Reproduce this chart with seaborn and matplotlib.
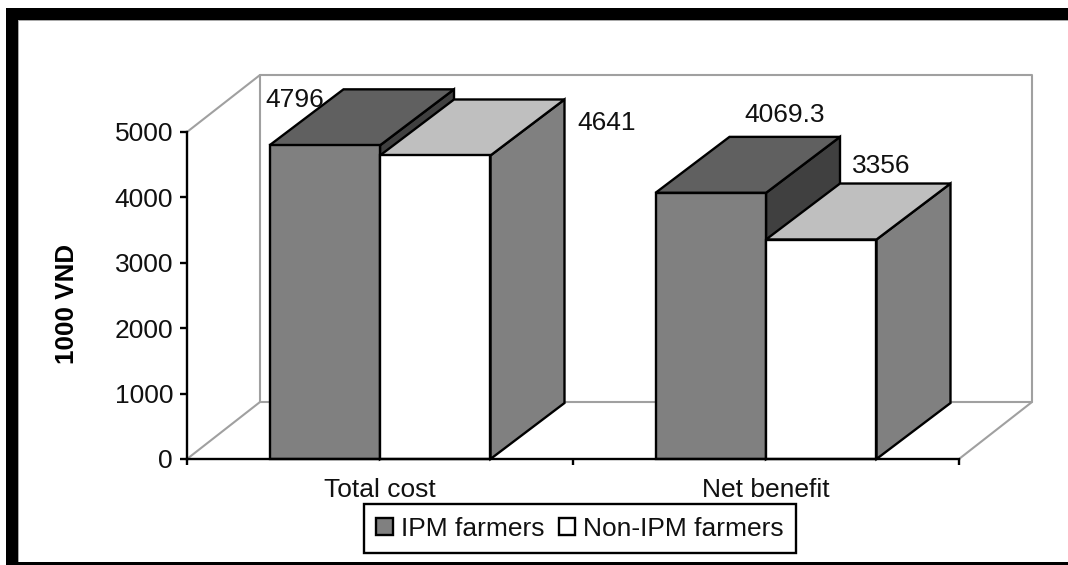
import matplotlib
matplotlib.use("Agg")
import matplotlib.pyplot as plt
from matplotlib.patches import Polygon, Rectangle
from matplotlib.ticker import FixedLocator, NullFormatter
import pandas as pd
import seaborn as sns

categories = ["Total cost", "Net benefit"]
ipm_values = [4796, 4069.3]
non_ipm_values = [4641, 3356]
series_names = ["IPM farmers", "Non-IPM farmers"]
value_labels = ["4796", "4641", "4069.3", "3356"]
y_ticks = [0, 1000, 2000, 3000, 4000, 5000]

W, H = 1068, 565
DPI = 100
FONT = 19
LW = 1.7
DEPTH_X, DEPTH_Y = 74, 56          # 3-D depth in pixels
WALL_X, WALL_Y = 73, 57
GREY = "#a0a0a0"
FRONT = ["#808080", "#ffffff"]
TOP = ["#606060", "#bfbfbf"]
SIDE = ["#404040", "#808080"]
LABEL_OFFSETS = [(-30, 45), (171, 32), (74, 78), (60, 74)]  # pixels from bar top centre

sns.set_theme(style="white")
plt.rcParams["font.family"] = ["Liberation Sans", "DejaVu Sans"]

df = pd.DataFrame({
    "category": categories * 2,
    "series": [series_names[0]] * 2 + [series_names[1]] * 2,
    "value": ipm_values + non_ipm_values,
})

fig = plt.figure(figsize=(W / DPI, H / DPI), dpi=DPI, facecolor="white")
L, R, T, B = 187, 959, 132, 459
ax = fig.add_axes([L / W, 1 - B / H, (R - L) / W, (B - T) / H])
ax.patch.set_alpha(0)

sns.barplot(data=df, x="category", y="value", hue="series", hue_order=series_names,
            order=categories, palette=FRONT, width=0.5725, gap=0, saturation=1,
            edgecolor="black", linewidth=LW, zorder=5, ax=ax, legend=True)

ax.set_xlim(-0.5, 1.5)
ax.set_ylim(0, 5000)
px_x = 2.0 / (R - L)
px_y = 5000.0 / (B - T)
dx, dy = DEPTH_X * px_x, DEPTH_Y * px_y
wx, wy = WALL_X * px_x, WALL_Y * px_y

# walls
x0, x1, y0, y1 = -0.5, 1.5, 0, 5000
for xs, ys in [
    ([x0 + wx, x1 + wx, x1 + wx, x0 + wx, x0 + wx], [y0 + wy, y0 + wy, y1 + wy, y1 + wy, y0 + wy]),
    ([x0, x0 + wx], [y1, y1 + wy]),
    ([x0, x0 + wx], [y0, y0 + wy]),
    ([x1, x1 + wx], [y0, y0 + wy]),
]:
    ax.plot(xs, ys, color=GREY, lw=1.5, clip_on=False, zorder=1)

# 3-D faces derived from the bars that seaborn drew
bars = sorted([p for p in ax.patches if p.get_height() > 0], key=lambda p: p.get_x())
for i, bar in enumerate(bars):
    s = i % 2
    a, w, h = bar.get_x(), bar.get_width(), bar.get_height()
    b = a + w
    top = [(a, h), (b, h), (b + dx, h + dy), (a + dx, h + dy)]
    side = [(b, 0), (b + dx, dy), (b + dx, h + dy), (b, h)]
    z = 2 + i * 0.1
    ax.add_patch(Polygon(side, closed=True, fc=SIDE[s], ec="black", lw=LW, clip_on=False, zorder=z))
    ax.add_patch(Polygon(top, closed=True, fc=TOP[s], ec="black", lw=LW, clip_on=False, zorder=z + 0.01))
    bar.set_clip_on(False)
    ax.annotate(value_labels[i], xy=(a + w / 2, h), xytext=LABEL_OFFSETS[i],
                textcoords="offset pixels", ha="center", va="center",
                fontsize=FONT, color="#111111", zorder=8, annotation_clip=False)

sns.despine(ax=ax)
for side_name in ("left", "bottom"):
    ax.spines[side_name].set_linewidth(LW)
    ax.spines[side_name].set_color("black")
    ax.spines[side_name].set_zorder(6)

ax.set_yticks(y_ticks)
ax.tick_params(axis="y", left=True, length=5, width=LW, color="black", labelsize=FONT,
               labelcolor="#111111", pad=5)
ax.set_xticks([0, 1], categories)
ax.tick_params(axis="x", which="major", bottom=False, length=0, labelsize=FONT,
               labelcolor="#111111", pad=14)
ax.xaxis.set_minor_locator(FixedLocator([-0.5, 0.5, 1.5]))
ax.xaxis.set_minor_formatter(NullFormatter())
ax.tick_params(axis="x", which="minor", bottom=True, length=4, width=LW, color="black")

ax.set_xlabel("")
ax.set_ylabel("")
fig.text(67 / W, 1 - 303.5 / H, "1000 VND", rotation=90, ha="center", va="center",
         fontsize=18.7, fontweight="bold", color="black")

handles, labels = ax.get_legend_handles_labels()
leg = ax.legend(handles, labels, loc="center", bbox_to_anchor=(580 / W, 1 - 528.5 / H),
                bbox_transform=fig.transFigure, ncol=2, fontsize=FONT, frameon=True,
                fancybox=False, framealpha=1, edgecolor="black", handlelength=0.62,
                handleheight=0.6, handletextpad=0.3, columnspacing=0.55, borderpad=0.46,
                borderaxespad=0, labelcolor="#111111")
leg.get_frame().set_linewidth(LW)
leg.set_zorder(9)

# black frame of the picture
def frame(x, y, w, h, color):
    fig.add_artist(Rectangle((x / W, 1 - (y + h) / H), w / W, h / H, transform=fig.transFigure,
                             fc=color, ec="none"))

frame(18, 20, 1, 542, "#a8a8a8")
frame(18, 20, W - 18, 1, "#a8a8a8")
frame(6, 8, W - 6, 12, "black")
frame(6, 8, 12, H - 8, "black")
frame(18, 562, W - 18, 3, "black")

fig.savefig("out.png", dpi=DPI, facecolor="white")
